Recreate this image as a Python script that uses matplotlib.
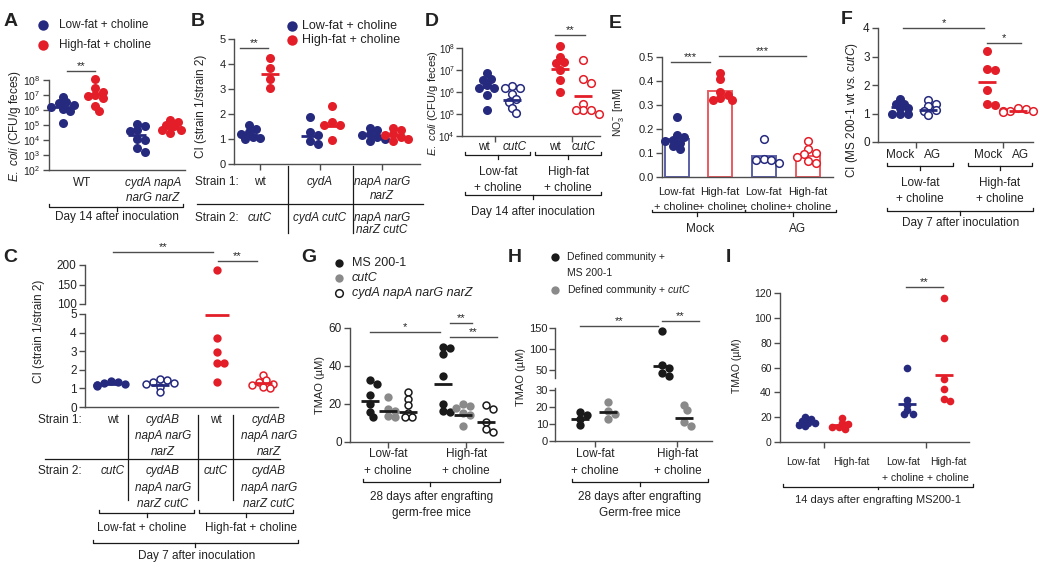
import numpy as np
import matplotlib
matplotlib.use('Agg')
import matplotlib.pyplot as plt
from matplotlib.lines import Line2D
from matplotlib.transforms import Affine2D, blended_transform_factory

plt.rcParams['font.family'] = ['Liberation Sans', 'DejaVu Sans']
plt.rcParams['mathtext.fontset'] = 'custom'
plt.rcParams['mathtext.rm'] = 'Liberation Sans'
plt.rcParams['mathtext.it'] = 'Liberation Sans:italic'
plt.rcParams['mathtext.default'] = 'regular'
plt.rcParams['text.color'] = '#222222'

BLUE = '#252a7e'
RED = '#e31e28'
GREY = '#8a8a8a'
BLACK = '#1a1a1a'
AXC = '#4d4d4d'

# ---------------- data ----------------
# A: E. coli (CFU/g feces), day 14
a_groups = ['WT', 'cydA napA\nnarG narZ']
a_lf = [[7e6, 3.5e6, 2.8e6, 2e6, 1.6e6, 1.25e6, 8e5, 1.3e5],
        [1.2e5, 8.5e4, 5e4, 4e4, 1.1e4, 1e4, 2.8e3, 1.5e3]]
a_hf = [[1.1e8, 3e7, 1.6e7, 1e7, 8e6, 6e6, 1.9e6, 8.5e5],
        [2e5, 1.7e5, 1e5, 8e4, 5e4, 4.5e4, 3e4]]
a_lf_mid = [1.7e6, 2.2e4]
a_hf_mid = [1.1e7, 6.5e4]

# B: competitive index
b_strain1 = ['wt', 'cydA', 'napA narG\nnarZ']
b_strain2 = ['cutC', 'cydA cutC', 'napA narG\nnarZ cutC']
b_lf = [[1.55, 1.4, 1.3, 1.2, 1.1, 1.05, 1.0],
        [1.9, 1.27, 1.16, 0.93, 0.8],
        [1.43, 1.35, 1.2, 1.15, 1.07, 1.0, 0.93]]
b_hf = [[4.23, 3.83, 3.4, 3.03],
        [2.33, 1.67, 1.56, 1.55, 0.96],
        [1.43, 1.35, 1.2, 1.15, 1.07, 1.0, 0.93]]
b_lf_mid = [1.16, 1.13, 1.17]
b_hf_mid = [3.6, 1.53, 1.16]

# C: competitive index, broken axis
c_strain1 = ['wt', 'cydAB\nnapA narG\nnarZ', 'wt', 'cydAB\nnapA narG\nnarZ']
c_strain2 = ['cutC', 'cydAB\nnapA narG\nnarZ cutC', 'cutC', 'cydAB\nnapA narG\nnarZ cutC']
c_vals = [[1.4, 1.35, 1.3, 1.25, 1.2, 1.2, 1.15],
          [1.5, 1.45, 1.35, 1.3, 1.25, 1.1, 0.8],
          [187, 3.72, 2.95, 2.37, 2.35, 1.35],
          [1.7, 1.45, 1.35, 1.25, 1.2, 1.1, 1.0]]
c_mid = [1.26, 1.17, 4.93, 1.3]

# D: E. coli (CFU/g feces), wt vs cutC
d_vals = [[7e6, 4e6, 3.5e6, 2e6, 1.6e6, 1.5e6, 7e5, 1.5e5],
          [1.8e6, 1.6e6, 1.5e6, 8e5, 5e5, 3.5e5, 1.8e5, 1.1e5],
          [1.2e8, 4e7, 2.3e7, 2e7, 1e7, 3.4e6, 1e6],
          [2.8e7, 3.8e6, 2.5e6, 3e5, 1.6e5, 1.5e5, 1.5e5, 1e5]]
d_mid = [1.7e6, 4.5e5, 1.15e7, 6.5e5]

# E: NO3- (mM)
e_bar = [0.16, 0.36, 0.088, 0.088]
e_vals = [[0.25, 0.175, 0.165, 0.155, 0.15, 0.14, 0.13, 0.115],
          [0.435, 0.41, 0.355, 0.34, 0.33, 0.32, 0.32],
          [0.16, 0.075, 0.07, 0.07, 0.06],
          [0.15, 0.115, 0.1, 0.095, 0.085, 0.065, 0.06]]

# F: CI (MS 200-1 wt vs cutC)
f_vals = [[1.5, 1.35, 1.35, 1.2, 1.2, 1.0, 1.0, 1.0],
          [1.47, 1.35, 1.26, 1.12, 1.1, 0.95],
          [3.18, 2.55, 2.53, 1.82, 1.35, 1.29],
          [1.2, 1.15, 1.1, 1.1, 1.08, 1.05]]
f_mid = [1.24, 1.14, 2.12, 1.1]

# G: TMAO (uM), 28 days
g_vals = [[32.4, 30.7, 25, 20, 15.6, 12.9],
          [23.5, 17.5, 16.5, 13.5, 13],
          [26.5, 22.5, 19.5, 15.5, 13, 13],
          [50, 49.5, 46.5, 34.5, 20, 16.5, 16],
          [20, 19, 18, 15.5, 14, 8.5],
          [19.5, 17.5, 10.5, 7, 5.3]]
g_mid = [21.8, 16.5, 15.6, 30.3, 14.2, 10.6]

# H: TMAO (uM), defined community
h_vals = [[17, 15.5, 13, 9.5],
          [23, 17.5, 16, 13],
          [142, 62, 54, 42, 36],
          [21, 18, 11, 9]]
h_mid = [13, 17.3, 58, 13.5]

# I: TMAO (uM), 14 days
i_labels = ['Low-fat', 'High-fat', 'Low-fat\n+ choline', 'High-fat\n+ choline']
i_vals = [[20, 18.5, 17, 15.5, 15, 14, 12.5],
          [19, 15, 14.5, 12, 12, 10.5],
          [60, 34.2, 29.5, 25.6, 22.9, 22.4],
          [116, 83.5, 51, 43, 35, 33]]
i_mid = [15.5, 13.5, 30.5, 54]

# ---------------- helpers ----------------
W, H = 1050, 567
fig = plt.figure(figsize=(W / 100, H / 100), dpi=100)
TOP = Affine2D().scale(1, -1).translate(0, H)   # figure pixels, y from the top


def panel(x0, y0, x1, y1, ylim, yticks, fs=8, log=False, bottom=True):
    ax = fig.add_axes([x0 / W, 1 - y1 / H, (x1 - x0) / W, (y1 - y0) / H])
    ax.patch.set_visible(False)
    ax.spines[['top', 'right']].set_visible(False)
    ax.spines[['left', 'bottom']].set_color(AXC)
    ax.spines[['left', 'bottom']].set_linewidth(1)
    if not bottom:
        ax.spines['bottom'].set_visible(False)
    if log:
        ax.set_yscale('log')
    ax.set_xlim(0, 10)
    ax.set_ylim(*ylim)
    ax.set_yticks(yticks)
    ax.minorticks_off()
    ax.set_xticks([])
    ax.tick_params(length=4, width=1, color=AXC, labelsize=fs, pad=2, labelcolor='#222222')
    ax.wpx = x1 - x0
    return ax


def swarm(ax, x, vals, d):
    # push overlapping dots sideways, the way GraphPad scatter plots do
    pts = ax.transData.transform(np.column_stack([np.full(len(vals), x), vals]))
    placed = []
    for px, py in pts:
        for k in (0, 1, -1, 2, -2, 3, -3, 4, -4):
            cx = px + k * 0.42 * d
            if all(np.hypot(cx - qx, py - qy) >= 0.62 * d for qx, qy in placed):
                break
        placed.append((cx, py))
    return ax.transData.inverted().transform(np.array(placed))


def dots(ax, x, vals, color, ms=6.5, hollow=False):
    if len(vals) == 0:
        return
    xy = swarm(ax, x, vals, ms / 0.72)
    ax.plot(xy[:, 0], xy[:, 1], ls='none', marker='o', ms=ms - (1 if hollow else 0),
            mfc='white' if hollow else color, mec=color, mew=1.1 if hollow else 0,
            clip_on=False, zorder=3)


def mid(ax, x, v, color, half=9):
    dx = half * 10 / ax.wpx
    ax.plot([x - dx, x + dx], [v, v], color=color, lw=2, solid_capstyle='butt',
            zorder=4, clip_on=False)


def bt(ax):
    return blended_transform_factory(ax.transData, TOP)


def tx(ax, x, y, s, fs=8.5, **kw):
    kw.setdefault('ha', 'center')
    kw.setdefault('va', 'center')
    ax.text(x, y, s, transform=bt(ax), fontsize=fs, **kw)


def brace(ax, xa, xb, y, xc=None, up=3, down=4):
    xc = (xa + xb) / 2 if xc is None else xc
    ax.plot([xa, xa, xb, xb], [y - up, y, y, y - up], color=BLACK, lw=0.9,
            transform=bt(ax), clip_on=False)
    ax.plot([xc, xc], [y, y + down], color=BLACK, lw=0.9, transform=bt(ax), clip_on=False)


def vline(ax, x, ya, yb):
    ax.plot([x, x], [ya, yb], color=BLACK, lw=0.9, transform=bt(ax), clip_on=False)


def hline(ax, xa, xb, y, color=BLACK):
    ax.plot([xa, xb], [y, y], color=color, lw=0.9, transform=bt(ax), clip_on=False)


def star(ax, xa, xb, y, s, fs=8):
    ax.plot([xa, xb], [y, y], color=AXC, lw=1, transform=bt(ax), clip_on=False)
    ax.text((xa + xb) / 2, y - 1.5, s, transform=bt(ax), ha='center', va='baseline', fontsize=fs)


def ftext(x, y, s, fs=8.5, **kw):
    kw.setdefault('va', 'center')
    fig.text(x, y, s, transform=TOP, fontsize=fs, **kw)


def fdot(x, y, color, ms=7, hollow=False):
    fig.add_artist(Line2D([x], [y], transform=TOP, ls='none', marker='o', ms=ms,
                          mfc='white' if hollow else color, mec=color, mew=1.1 if hollow else 0))


def letter(x, y, s):
    ftext(x, y, s, fs=14, weight='bold', ha='center')


def ylab(x, y, s, fs=8.5):
    ftext(x, y, s, fs=fs, rotation=90, ha='center')


def lines(ax, x, y0, step, s, fs=8.5, italic=True):
    for k, line in enumerate(s.split('\n')):
        tx(ax, x, y0 + step * k, line, fs=fs,
           style='italic' if italic and line.lower() != 'wt' else 'normal')


# ---------------- A ----------------
letter(11, 22, 'A')
fdot(43, 25, BLUE, 7.5)
ftext(59, 25, 'Low-fat + choline')
fdot(43, 45, RED, 7.5)
ftext(59, 45, 'High-fat + choline')
ax = panel(49, 80, 185, 170, (1e2, 1e8), [10.0 ** k for k in range(2, 9)], fs=7.5, log=True)
ax.set_yticklabels([f'$10^{{{k}}}$' for k in range(2, 9)])
for (pl, ph), lf, hf, ml, mh in zip([(1.0, 3.4), (6.5, 8.9)], a_lf, a_hf, a_lf_mid, a_hf_mid):
    dots(ax, pl, lf, BLUE)
    dots(ax, ph, hf, RED)
    mid(ax, pl, ml, BLUE)
    mid(ax, ph, mh, RED)
tx(ax, 2.4, 183, a_groups[0])
lines(ax, 7.65, 183, 15, a_groups[1])
brace(ax, 0, 9.85, 207, xc=5.0)
tx(ax, 5.0, 217, 'Day 14 after inoculation')
star(ax, 1.3, 3.4, 71, '**')
ylab(15, 126, r'$\mathit{E.\ coli}$ (CFU/g feces)')

# ---------------- B ----------------
letter(198, 22, 'B')
fdot(292, 26, BLUE, 7.5)
ftext(302, 26, 'Low-fat + choline', fs=9)
fdot(292, 40, RED, 7.5)
ftext(302, 40, 'High-fat + choline', fs=9)
ax = panel(234, 39, 420, 164, (0, 5), range(6))
b_ticks = [1.4, 4.62, 7.96]
ax.set_xticks(b_ticks)
ax.set_xticklabels([])
for (pl, ph), lf, hf, ml, mh in zip([(0.8, 1.95), (4.1, 5.27), (7.3, 8.55)],
                                    b_lf, b_hf, b_lf_mid, b_hf_mid):
    dots(ax, pl, lf, BLUE)
    dots(ax, ph, hf, RED)
    mid(ax, pl, ml, BLUE)
    mid(ax, ph, mh, RED)
tx(ax, -2.1, 182, 'Strain 1:', ha='left')
tx(ax, -2.1, 218, 'Strain 2:', ha='left')
for x, s1, s2 in zip(b_ticks, b_strain1, b_strain2):
    lines(ax, x, 182, 14, s1)
    lines(ax, x, 218, 12, s2)
hline(ax, -2.0, 10.16, 204)
vline(ax, 2.9, 166, 233)
vline(ax, 6.4, 166, 233)
star(ax, 0.3, 1.83, 48, '**')
ylab(201, 106, 'CI (strain 1/strain 2)')

# ---------------- C ----------------
letter(10, 257, 'C')
axu = panel(85, 265, 278, 304, (100, 200), [100, 150, 200], fs=8.5, bottom=False)
axl = panel(85, 314, 278, 407, (0, 5), range(6), fs=8.5)
c_pos = [1.35, 3.89, 6.84, 9.2]
c_style = [(BLUE, False), (BLUE, True), (RED, False), (RED, True)]
for x, vals, m, (col, hol) in zip(c_pos, c_vals, c_mid, c_style):
    vals = np.array(vals)
    dots(axu, x, vals[vals >= 100], col, 6, hol)
    dots(axl, x, vals[vals < 100], col, 6, hol)
    mid(axl, x, m, col, half=12 if m > 3 else 9)
tx(axl, -2.44, 420, 'Strain 1:', ha='left')
tx(axl, -2.44, 471, 'Strain 2:', ha='left')
c_lab_x = [1.45, 4.04, 6.79, 9.53]
for x, s1, s2 in zip(c_lab_x, c_strain1, c_strain2):
    lines(axl, x, 420, 16, s1)
    lines(axl, x, 471, 16.5, s2)
hline(axl, -2.07, 10.1, 459)
for x in (2.23, 5.85, 7.67):
    vline(axl, x, 415, 500)
brace(axl, 0.73, 5.65, 513, xc=3.21)
brace(axl, 5.9, 10.78, 513, xc=8.34)
tx(axl, 2.95, 528, 'Low-fat + choline')
tx(axl, 8.6, 528, 'High-fat + choline')
brace(axl, 0.41, 11.04, 543, xc=5.7)
tx(axl, 5.8, 556, 'Day 7 after inoculation')
star(axu, 1.45, 6.63, 252, '**')
star(axu, 6.9, 8.9, 261, '**')
ylab(39, 331, 'CI (strain 1/strain 2)')

# ---------------- D ----------------
letter(432, 22, 'D')
ax = panel(462, 48, 600, 136, (1e4, 1e8), [10.0 ** k for k in range(4, 9)], fs=7, log=True)
ax.tick_params(axis='y', pad=1)
ax.set_yticklabels([f'$10^{{{k}}}$' for k in range(4, 9)])
ax.set_xticks([2.4, 8.0])
ax.set_xticklabels([])
d_pos = [1.8, 3.65, 7.1, 8.8]
for x, vals, m, (col, hol) in zip(d_pos, d_vals, d_mid, c_style):
    dots(ax, x, vals, col, 6.5, hol)
    mid(ax, x, m, col)
for x, s in zip([1.6, 3.85, 6.75, 8.8], ['wt', 'cutC', 'wt', 'cutC']):
    lines(ax, x, 147, 0, s)
brace(ax, 0.22, 4.93, 155, xc=2.6)
brace(ax, 5.3, 10.1, 155, xc=7.7)
for x, s in zip([2.6, 7.7], ['Low-fat', 'High-fat']):
    tx(ax, x, 172, s)
    tx(ax, x, 188, '+ choline')
brace(ax, 0.22, 10.1, 195, xc=5.15)
tx(ax, 5.15, 212, 'Day 14 after inoculation')
star(ax, 6.74, 8.9, 35, '**')
ylab(433, 103, r'$\mathit{E.\ coli}$ (CFU/g feces)', fs=8)

# ---------------- E ----------------
letter(615, 23, 'E')
ax = panel(662, 57, 833, 177, (0, 0.5), np.arange(0, 0.51, 0.1))
ax.yaxis.set_major_formatter('{x:.1f}')
e_pos = [0.85, 3.4, 5.95, 8.55]
ax.bar(e_pos, e_bar, width=1.4, fill=False, lw=1.4,
       edgecolor=['#5b5fa6', '#ea5a60', '#5b5fa6', '#ea5a60'], zorder=2)
for x, vals, col, hol in zip(e_pos, e_vals, [BLUE, RED, BLUE, RED], [False, False, True, True]):
    dots(ax, x, vals, col, 6.5, hol)
for x, s in zip(e_pos, ['Low-fat', 'High-fat', 'Low-fat', 'High-fat']):
    tx(ax, x, 192, s, fs=8)
    tx(ax, x, 207, '+ choline', fs=8)
brace(ax, -0.58, 4.85, 212, xc=2.05, up=2)
brace(ax, 4.85, 10.2, 212, xc=7.66, up=2)
tx(ax, 2.22, 229, 'Mock')
tx(ax, 7.9, 229, 'AG')
star(ax, 0.53, 2.81, 62, '***')
star(ax, 3.33, 8.42, 56, '***')
ylab(618, 112, r'NO$_3^-$ [mM]', fs=7.5)

# ---------------- F ----------------
letter(847, 20, 'F')
ax = panel(878, 28, 1033, 142, (0, 4), range(5), fs=8.5)
ax.set_xticks([2.45, 8.06])
ax.set_xticklabels([])
f_pos = [1.42, 3.23, 7.03, 9.03]
f_style = [(BLUE, False), (BLUE, True), (RED, False), (RED, True)]
for x, vals, m, (col, hol) in zip(f_pos, f_vals, f_mid, f_style):
    dots(ax, x, vals, col, 6.5, hol)
    mid(ax, x, m, col)
for x, s in zip([1.42, 3.55, 7.1, 9.2], ['Mock', 'AG', 'Mock', 'AG']):
    tx(ax, x, 155, s)
brace(ax, 0.58, 4.84, 166, xc=2.7)
brace(ax, 5.8, 9.94, 166, xc=7.87)
for x, s in zip([2.7, 7.87], ['Low-fat', 'High-fat']):
    tx(ax, x, 183, s)
    tx(ax, x, 199, '+ choline')
brace(ax, 0.58, 10.0, 211, xc=5.3)
tx(ax, 5.3, 223, 'Day 7 after inoculation')
star(ax, 1.61, 6.84, 28, '*')
star(ax, 7.03, 9.23, 43, '*')
ylab(852, 110, r'CI (MS 200-1 wt vs. $\mathit{cutC}$)')

# ---------------- G ----------------
letter(309, 257, 'G')
fdot(339, 263, BLACK, 6)
ftext(352, 263, 'MS 200-1', fs=9)
fdot(339, 278, GREY, 6)
ftext(352, 278, 'cutC', fs=9, style='italic')
fdot(339, 293, BLACK, 5.5, hollow=True)
ftext(352, 293, 'cydA napA narG narZ', fs=9, style='italic')
ax = panel(350, 328, 503, 442, (0, 60), [0, 20, 40, 60], fs=8.5)
ax.set_xticks([2.5, 7.6])
ax.set_xticklabels([])
g_pos = [1.3, 2.5, 3.8, 6.1, 7.4, 8.9]
g_style = [(BLACK, False), (GREY, False), (BLACK, True)] * 2
for x, vals, m, (col, hol) in zip(g_pos, g_vals, g_mid, g_style):
    dots(ax, x, vals, col, 6, hol)
    mid(ax, x, m, BLACK)
for x, s in zip([2.5, 7.6], ['Low-fat', 'High-fat']):
    tx(ax, x, 454, s)
    tx(ax, x, 471, '+ choline')
brace(ax, 0.85, 9.8, 482, xc=5.23)
tx(ax, 5.3, 497, '28 days after engrafting')
tx(ax, 5.3, 513, 'germ-free mice')
star(ax, 1.31, 5.88, 332, '*')
star(ax, 6.54, 7.97, 323, '**')
star(ax, 6.54, 9.6, 337, '**')
ylab(320, 385, 'TMAO (µM)', fs=8)

# ---------------- H ----------------
letter(515, 257, 'H')
fdot(555, 257, BLACK, 6)
ftext(567, 257, 'Defined community +', fs=7.5)
ftext(567, 273, 'MS 200-1', fs=7.5)
fdot(555, 290, GREY, 6)
ftext(567, 290, r'Defined community + $\mathit{cutC}$', fs=7.5)
axu = panel(555, 328, 712, 378, (30, 150), [50, 100, 150], fs=8, bottom=False)
axl = panel(555, 388, 712, 441, (0, 31.2), [0, 10, 20, 30], fs=8)
axu.tick_params(axis='y', pad=1)
axl.tick_params(axis='y', pad=1)
axl.set_xticks([2.55, 7.8])
axl.set_xticklabels([])
h_pos = [1.6, 3.4, 6.8, 8.2]
h_col = [BLACK, GREY, BLACK, GREY]
for x, vals, m, col in zip(h_pos, h_vals, h_mid, h_col):
    vals = np.array(vals)
    dots(axu, x, vals[vals >= 31], col, 6)
    dots(axl, x, vals[vals < 31], col, 6)
    mid(axu if m >= 31 else axl, x, m, BLACK)
for x, s in zip([2.55, 7.8], ['Low-fat', 'High-fat']):
    tx(axl, x, 454, s)
    tx(axl, x, 471, '+ choline')
brace(axl, 1.08, 9.75, 482, xc=5.4)
tx(axl, 5.4, 497, '28 days after engrafting')
tx(axl, 5.4, 513, 'Germ-free mice')
star(axu, 1.6, 6.56, 326, '**')
star(axu, 6.8, 9.2, 321, '**')
ylab(521, 377, 'TMAO (µM)', fs=8)

# ---------------- I ----------------
letter(728, 257, 'I')
ax = panel(780, 293, 969, 442, (0, 120), range(0, 121, 20), fs=7.5)
ax.set_xticks([2.33, 7.72])
ax.set_xticklabels([])
i_pos = [1.32, 3.28, 6.72, 8.68]
i_col = [BLUE, RED, BLUE, RED]
for x, vals, m, col in zip(i_pos, i_vals, i_mid, i_col):
    dots(ax, x, vals, col, 5.5)
    mid(ax, x, m, col)
for x, s in zip([1.22, 3.76, 6.5, 8.9], i_labels):
    lines(ax, x, 462, 16, s, fs=7.5, italic=False)
brace(ax, 0.16, 10.2, 487, xc=5.19, down=2)
tx(ax, 5.19, 500, '14 days after engrafting MS200-1', fs=8)
star(ax, 6.67, 8.62, 287, '**')
ylab(737, 366, 'TMAO (µM)', fs=7.5)

fig.savefig('out.png', dpi=100)
